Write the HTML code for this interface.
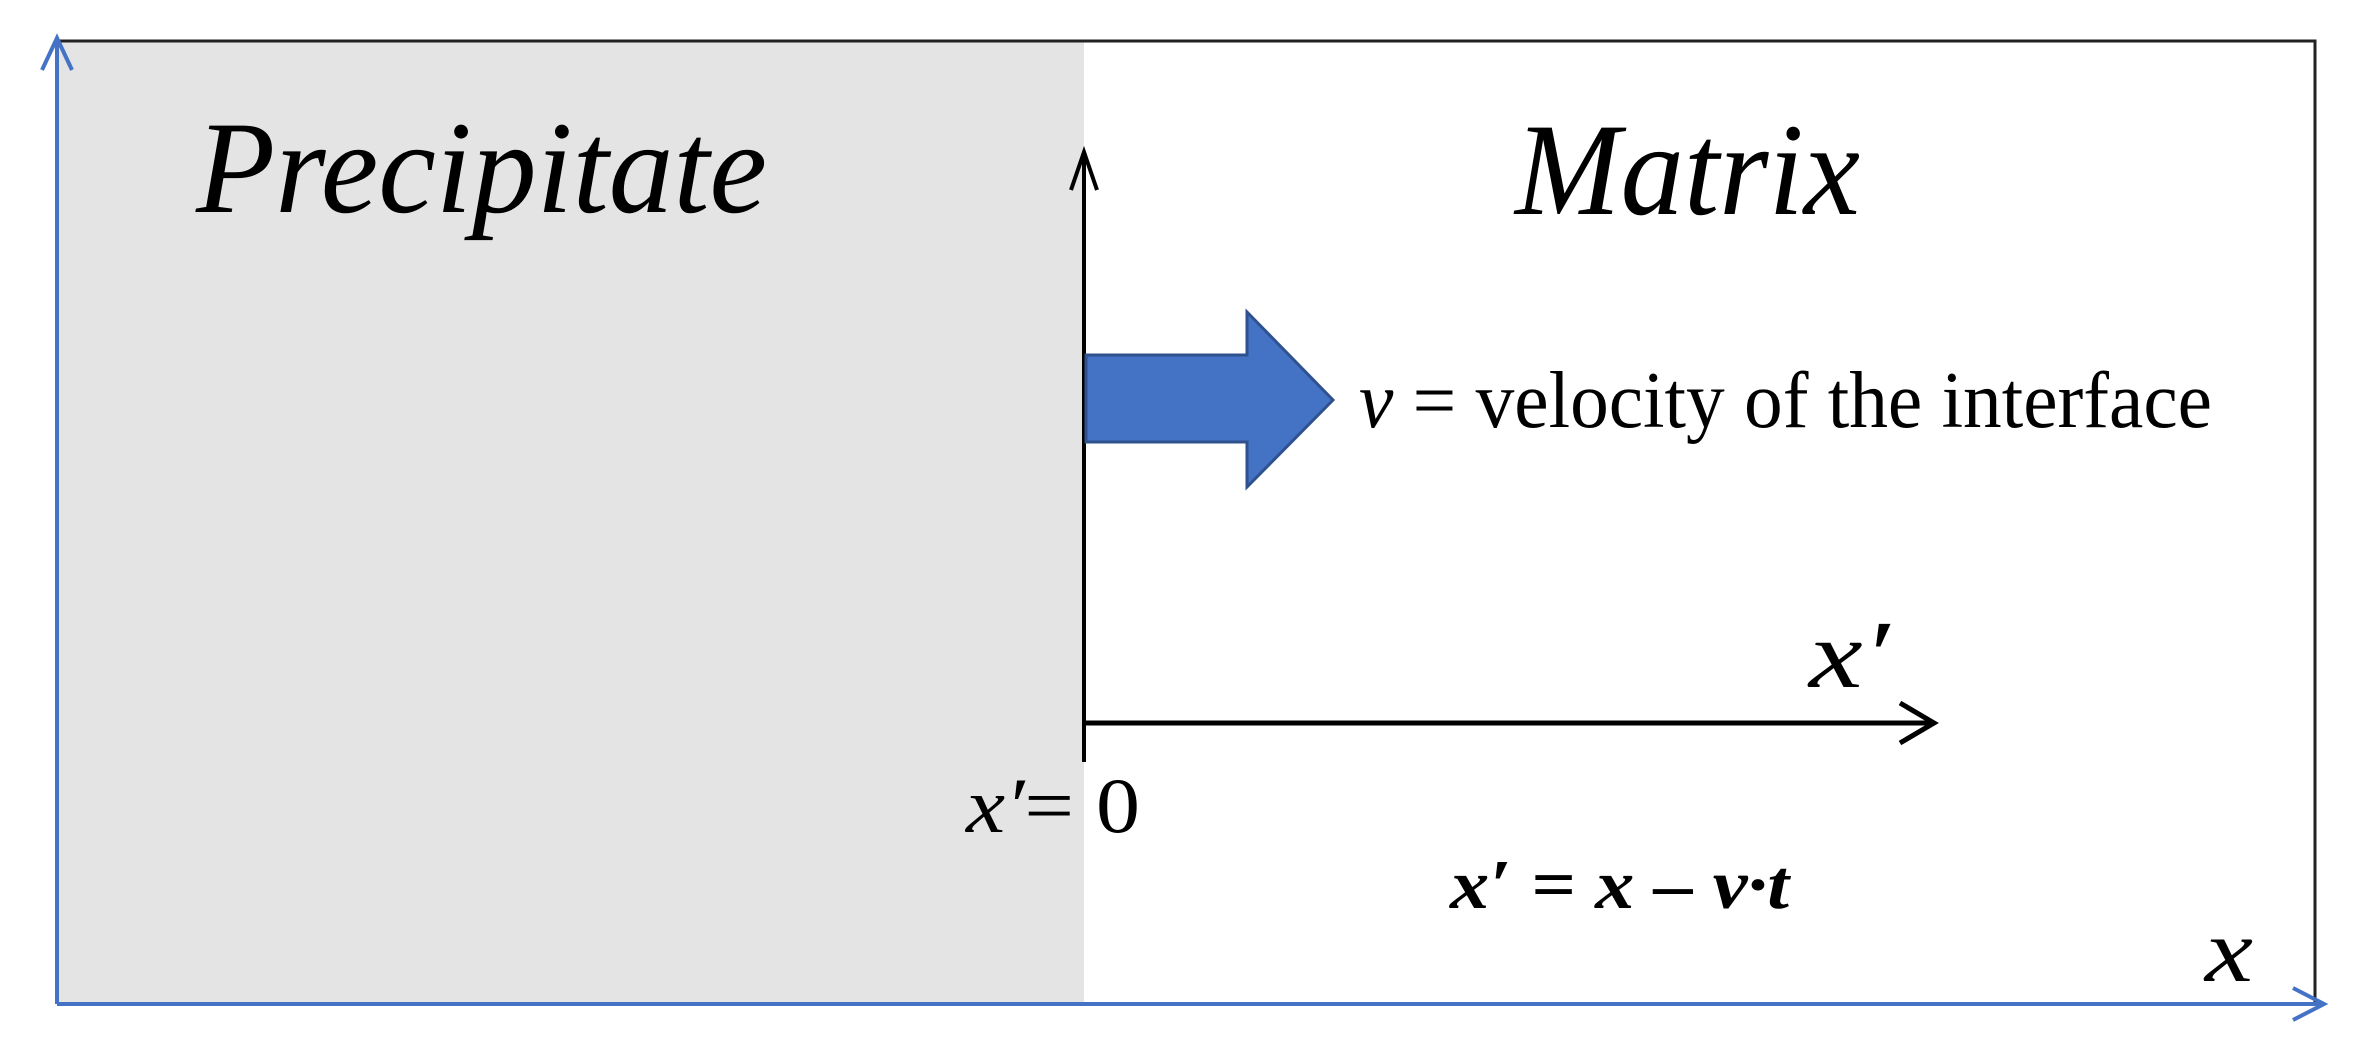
<!DOCTYPE html>
<html><head><meta charset="utf-8"><style>html,body{margin:0;padding:0;background:#fff;}svg{display:block}</style></head>
<body>
<svg width="2368" height="1063" viewBox="0 0 2368 1063" xmlns="http://www.w3.org/2000/svg">
<rect x="0" y="0" width="2368" height="1063" fill="#fff"/>
<rect x="57" y="41" width="1027" height="963" fill="#e4e4e4"/>
<polyline points="57,41 2315,41 2315,1004" fill="none" stroke="#222" stroke-width="3"/>
<line x1="57" y1="40" x2="57" y2="1004" stroke="#4472c4" stroke-width="4"/>
<polyline points="42,70 57,38 72,70" fill="none" stroke="#4472c4" stroke-width="4"/>
<line x1="57" y1="1004" x2="2322" y2="1004" stroke="#4472c4" stroke-width="4"/>
<polyline points="2293,988 2324,1004 2293,1020" fill="none" stroke="#4472c4" stroke-width="4"/>
<line x1="1084" y1="152" x2="1084" y2="762" stroke="#000" stroke-width="4"/>
<polyline points="1071,190 1084,152 1097,190" fill="none" stroke="#000" stroke-width="4"/>
<line x1="1084" y1="723" x2="1934" y2="723" stroke="#000" stroke-width="5"/>
<polyline points="1900,703 1934,723 1900,743" fill="none" stroke="#000" stroke-width="5"/>
<polygon points="1086,355 1247,355 1247,312 1333,400 1247,487 1247,442 1086,442" fill="#4472c4" stroke="#2f528f" stroke-width="3"/>
<g font-family="Liberation Serif, serif" fill="#000">
<text x="196" y="212" font-size="132" font-style="italic" textLength="571" lengthAdjust="spacingAndGlyphs">Precipitate</text>
<text x="1515" y="214" font-size="132" font-style="italic" textLength="345" lengthAdjust="spacingAndGlyphs">Matrix</text>
<text x="1359" y="427" font-size="80" textLength="853" lengthAdjust="spacingAndGlyphs"><tspan font-style="italic">v</tspan> = velocity of the interface</text>
<text x="1809" y="687" font-size="96" font-style="italic" textLength="80" lengthAdjust="spacingAndGlyphs">x′</text>
<text x="966" y="832" font-size="78" textLength="174" lengthAdjust="spacingAndGlyphs"><tspan font-style="italic">x′</tspan>= 0</text>
<text x="1450" y="908" font-size="70" font-weight="bold" font-style="italic" textLength="339" lengthAdjust="spacingAndGlyphs">x′ = x – v·t</text>
<text x="2205" y="981" font-size="90" font-style="italic" textLength="48" lengthAdjust="spacingAndGlyphs">x</text>
</g>
</svg>
</body></html>
